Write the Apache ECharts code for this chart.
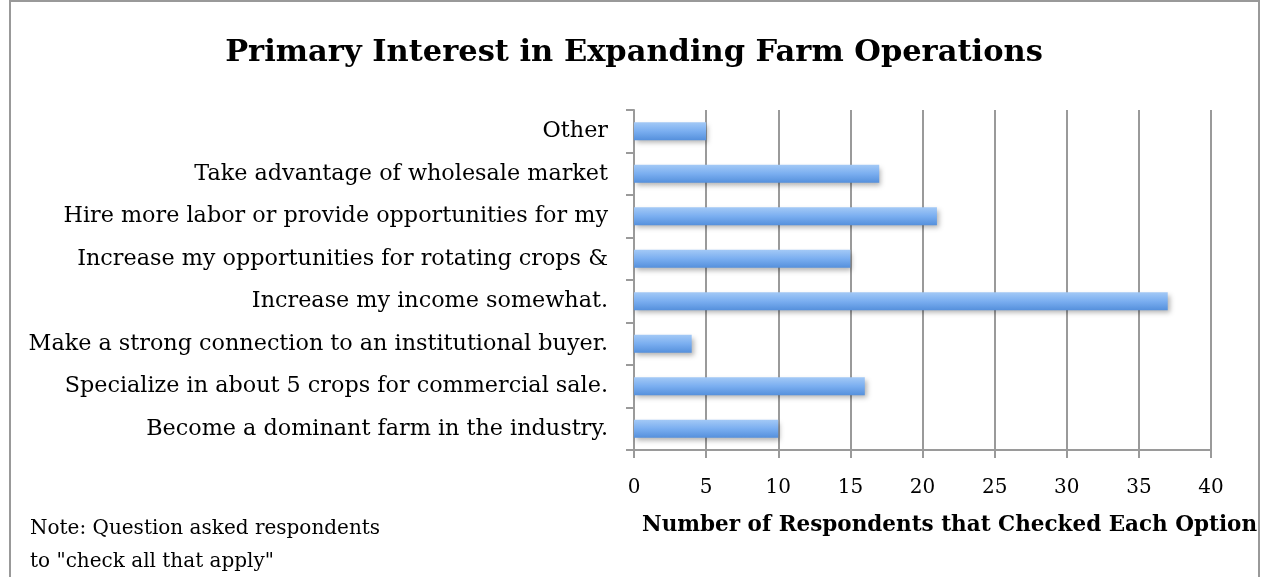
<!DOCTYPE html>
<html>
<head>
<meta charset="utf-8">
<script src="https://cdn.jsdelivr.net/npm/echarts@6/dist/echarts.min.js"></script>
<style>
  html, body { margin: 0; padding: 0; background: #fff; }
  #chart { width: 1268px; height: 577px; }
</style>
</head>
<body>
<div id="chart"></div>
<script>
// Options listed bottom to top, as the category axis draws them
const categories = [
  'Become a dominant farm in the industry.',
  'Specialize in about 5 crops for commercial sale.',
  'Make a strong connection to an institutional buyer.',
  'Increase my income somewhat.',
  'Increase my opportunities for rotating crops &',
  'Hire more labor or provide opportunities for my',
  'Take advantage of wholesale market',
  'Other'
];
const respondents = [10, 16, 4, 37, 15, 21, 17, 5];
const xTicks = [0, 5, 10, 15, 20, 25, 30, 35, 40];

const titleText = 'Primary Interest in Expanding Farm Operations';
const xAxisTitle = 'Number of Respondents that Checked Each Option';
const noteLines = ['Note: Question asked respondents', 'to "check all that apply"'];

const serif = '"DejaVu Serif", "Liberation Serif", serif';
const gray = '#9a9a9a';

const chart = echarts.init(document.getElementById('chart'), null, { renderer: 'canvas' });
chart.setOption({
  backgroundColor: '#ffffff',
  animation: false,
  title: {
    text: titleText,
    left: 'center',
    top: 33,
    textStyle: { fontFamily: serif, fontWeight: 'bold', fontSize: 30.5, color: '#000' }
  },
  grid: { left: 634, right: 57, top: 110, bottom: 127, containLabel: false },
  xAxis: {
    type: 'value',
    min: xTicks[0],
    max: xTicks[xTicks.length - 1],
    interval: 5,
    axisLine: { show: true, lineStyle: { color: gray, width: 2 } },
    axisTick: { show: true, length: 8, lineStyle: { color: gray, width: 2 } },
    splitLine: { show: true, lineStyle: { color: gray, width: 2 } },
    axisLabel: { fontFamily: serif, fontSize: 20, color: '#000', margin: 28 }
  },
  yAxis: {
    type: 'category',
    data: categories,
    axisLine: { show: true, lineStyle: { color: gray, width: 2 } },
    axisTick: { show: true, length: 8, lineStyle: { color: gray, width: 2 } },
    axisLabel: { fontFamily: serif, fontSize: 22.3, color: '#000', margin: 26 }
  },
  series: [{
    type: 'bar',
    data: respondents,
    barWidth: 18,
    itemStyle: {
      color: new echarts.graphic.LinearGradient(0, 0, 0, 1, [
        { offset: 0, color: '#a3c9f6' },
        { offset: 0.5, color: '#7aaef0' },
        { offset: 1, color: '#5590dc' }
      ]),
      shadowColor: 'rgba(0,0,0,0.3)',
      shadowBlur: 5,
      shadowOffsetX: 2,
      shadowOffsetY: 3
    }
  }],
  graphic: [
    {
      type: 'rect',
      shape: { x: 10, y: 1, width: 1249, height: 620 },
      style: { fill: 'none', stroke: '#999', lineWidth: 2 },
      silent: true
    },
    {
      type: 'text',
      left: 642,
      top: 514,
      style: { text: xAxisTitle, fontFamily: serif, fontWeight: 'bold', fontSize: 21.5, fill: '#000' }
    },
    {
      type: 'text',
      left: 30,
      top: 512,
      style: { text: noteLines.join('\n'), fontFamily: serif, fontSize: 20, lineHeight: 33, fill: '#000' }
    }
  ]
});
</script>
</body>
</html>
